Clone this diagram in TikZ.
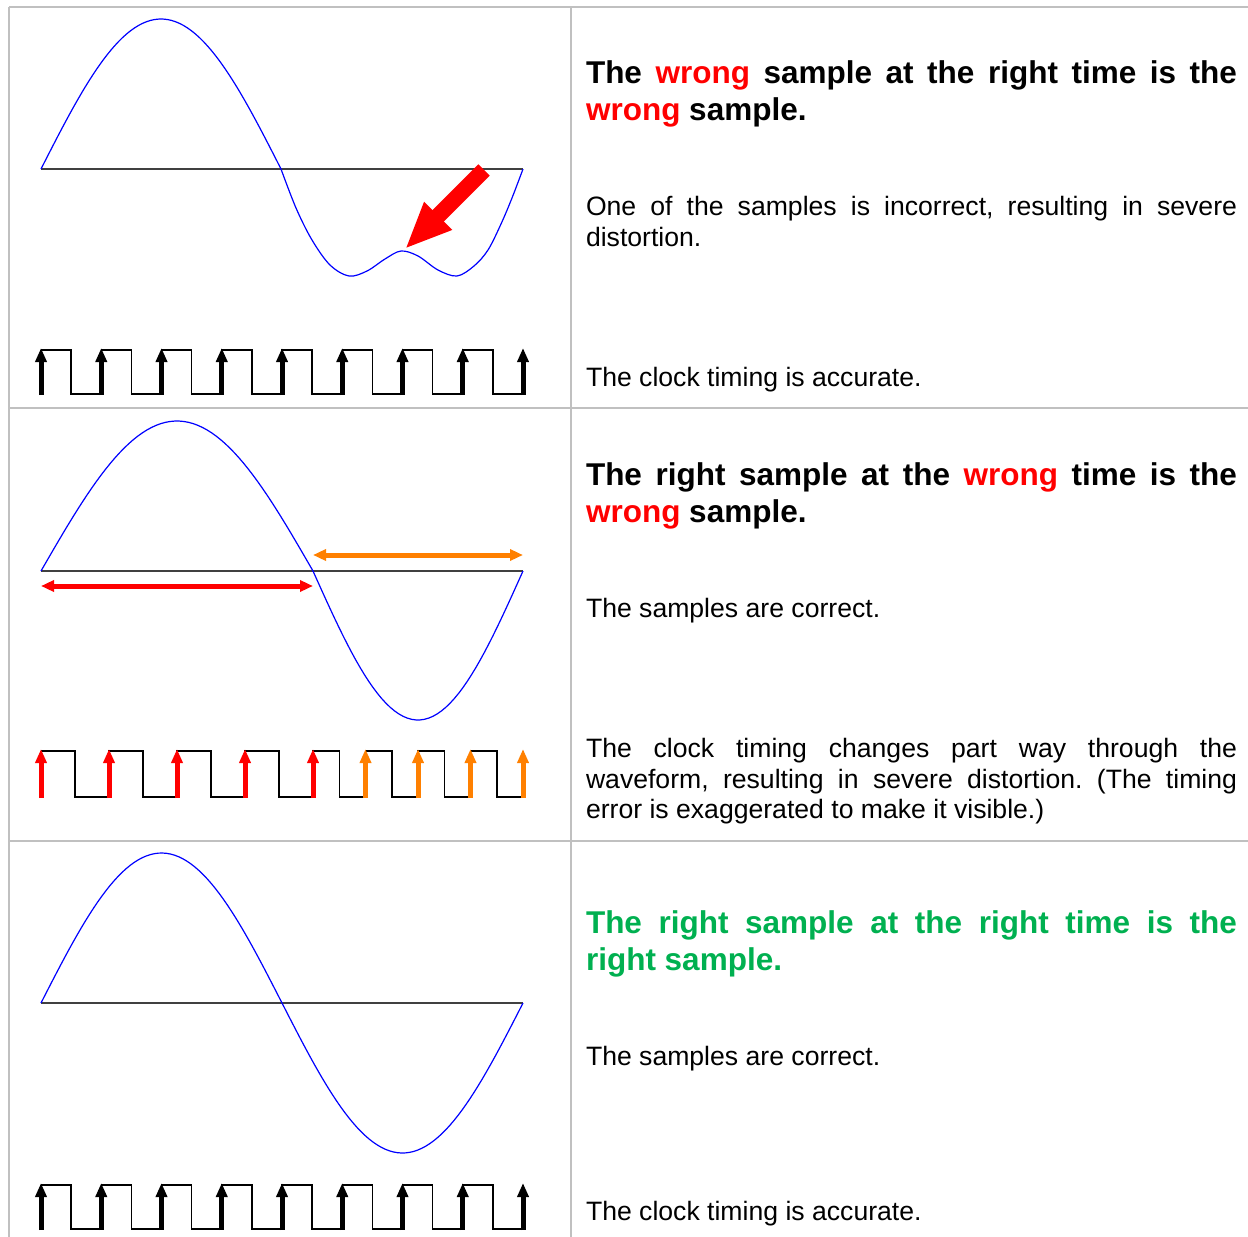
\documentclass[tikz,border=0pt]{standalone}
\usepackage{fontspec}
\setmainfont{Liberation Sans}
\usepackage{tikz}
\usetikzlibrary{arrows.meta,calc}
\frenchspacing
\definecolor{gridgray}{RGB}{192,192,192}
\definecolor{wrongred}{RGB}{255,0,0}
\definecolor{shiftorange}{RGB}{255,128,0}
\definecolor{rightgreen}{RGB}{0,176,80}
\definecolor{wavecol}{RGB}{0,0,255}
\newcommand{\wrongword}[1]{\textcolor{wrongred}{#1}}
\tikzset{
    mygrid/.style={draw=gridgray,line width=2.5pt},
    myaxis/.style={draw=black!75,line width=1.5pt},
    mywave/.style={draw=wavecol,line width=1.2pt},
    myclock/.style={draw=black,line width=1.5pt},
    myedgearrow/.style={line width=5pt,-{Triangle[length=14pt,width=11pt]}},
    myspan/.style={line width=5pt,{Triangle[length=13pt,width=11pt]}-{Triangle[length=13pt,width=11pt]}},
    mybigarrow/.style={draw=wrongred,line width=16pt,-{Triangle[length=47pt,width=36pt]}},
    myline/.style={anchor=base west,inner sep=0pt,outer sep=0pt},
    myhead/.style={myline,font=\fontsize{31.5}{37}\selectfont\bfseries},
    mytext/.style={myline,font=\fontsize{26.6}{30}\selectfont}
}

\begin{document}
\begin{tikzpicture}[x=1pt,y=-1pt]
  \useasboundingbox (0,0) rectangle (1248,1237);

  % 表格线
  \draw[mygrid] (9,7) -- (1248,7);
  \draw[mygrid] (9,7) -- (9,1237);
  \draw[mygrid] (571,7) -- (571,1237);
  \draw[mygrid] (9,408) -- (1248,408);
  \draw[mygrid] (9,841) -- (1248,841);

  % ---------- 第一行：错误的采样值 ----------
  \draw[myaxis] (41,169) -- (523,169);
  \draw[mywave] plot[domain=41:281,samples=60] (\x,{169-150*sin((\x-41)/240*180)});
  \draw[mywave] plot[smooth,tension=0.55] coordinates {
    (281,169) (296,208) (312,240) (330,265) (349,276) (367,271)
    (385,259) (401,251) (418,256) (438,270) (457,276) (474,266)
    (488,250) (501,224) (512,198) (523,169)};

  % 指向错误采样的箭头
  \coordinate (B1) at (484,170);
  \coordinate (B2) at (405,249);
  \draw[mybigarrow] (B1) -- (B2);

  % 时钟
  \draw[myclock] (41,350)
    \foreach \i in {0,...,7}{
      -- ({41+60.25*\i+30.125},350) -- ({41+60.25*\i+30.125},394)
      -- ({41+60.25*(\i+1)},394) -- ({41+60.25*(\i+1)},350)
    };
  \foreach \i in {0,...,8}{
    \draw[myedgearrow,black] ({41+60.25*\i},395) -- ({41+60.25*\i},348);
  }

  \node[myhead] (h1a) at (586,83)
    {\makebox[651pt][s]{The \wrongword{wrong} sample at the right time is the}};
  \node[myhead] (h1b) at (586,120) {\wrongword{wrong} sample.};
  \node[mytext] (t1a) at (586,215)
    {\makebox[651pt][s]{One of the samples is incorrect, resulting in severe}};
  \node[mytext] (t1b) at (586,246) {distortion.};
  \node[mytext] (c1a) at (586,386) {The clock timing is accurate.};

  % ---------- 第二行：错误的时刻 ----------
  \draw[myaxis] (41,571) -- (523,571);
  \draw[mywave] plot[domain=41:313,samples=60] (\x,{571-150*sin((\x-41)/272*180)});
  \draw[mywave] plot[domain=313:523,samples=50] (\x,{571+149*sin((\x-313)/210*180)});

  % 两段不同的周期
  \coordinate (S1) at (41,586);
  \coordinate (S2) at (313,586);
  \coordinate (S3) at (313,555);
  \coordinate (S4) at (523,555);
  \draw[myspan,wrongred] (S1) -- (S2);
  \draw[myspan,shiftorange] (S3) -- (S4);

  % 时钟（周期在中途改变）
  \draw[myclock] (41,751)
    \foreach \i in {0,...,3}{
      -- ({41+68*\i+34},751) -- ({41+68*\i+34},797)
      -- ({41+68*(\i+1)},797) -- ({41+68*(\i+1)},751)
    }
    \foreach \i in {0,...,3}{
      -- ({313+52.5*\i+26.25},751) -- ({313+52.5*\i+26.25},797)
      -- ({313+52.5*(\i+1)},797) -- ({313+52.5*(\i+1)},751)
    };
  \foreach \i in {0,...,4}{
    \draw[myedgearrow,wrongred] ({41+68*\i},798) -- ({41+68*\i},749);
  }
  \foreach \i in {1,...,4}{
    \draw[myedgearrow,shiftorange] ({313+52.5*\i},798) -- ({313+52.5*\i},749);
  }

  \node[myhead] (h2a) at (586,485)
    {\makebox[651pt][s]{The right sample at the \wrongword{wrong} time is the}};
  \node[myhead] (h2b) at (586,522) {\wrongword{wrong} sample.};
  \node[mytext] (t2a) at (586,617) {The samples are correct.};
  \node[mytext] (c2a) at (586,757)
    {\makebox[651pt][s]{The clock timing changes part way through the}};
  \node[mytext] (c2b) at (586,788)
    {\makebox[651pt][s]{waveform, resulting in severe distortion. (The timing}};
  \node[mytext] (c2c) at (586,818) {error is exaggerated to make it visible.)};

  % ---------- 第三行：正确 ----------
  \draw[myaxis] (41,1003) -- (523,1003);
  \draw[mywave] plot[domain=41:523,samples=120] (\x,{1003-150*sin((\x-41)/482*360)});

  \draw[myclock] (41,1185)
    \foreach \i in {0,...,7}{
      -- ({41+60.25*\i+30.125},1185) -- ({41+60.25*\i+30.125},1229)
      -- ({41+60.25*(\i+1)},1229) -- ({41+60.25*(\i+1)},1185)
    };
  \foreach \i in {0,...,8}{
    \draw[myedgearrow,black] ({41+60.25*\i},1230) -- ({41+60.25*\i},1183);
  }

  \node[myhead,text=rightgreen] (h3a) at (586,933)
    {\makebox[651pt][s]{The right sample at the right time is the}};
  \node[myhead,text=rightgreen] (h3b) at (586,970) {right sample.};
  \node[mytext] (t3a) at (586,1065) {The samples are correct.};
  \node[mytext] (c3a) at (586,1220) {The clock timing is accurate.};

\end{tikzpicture}
\end{document}
